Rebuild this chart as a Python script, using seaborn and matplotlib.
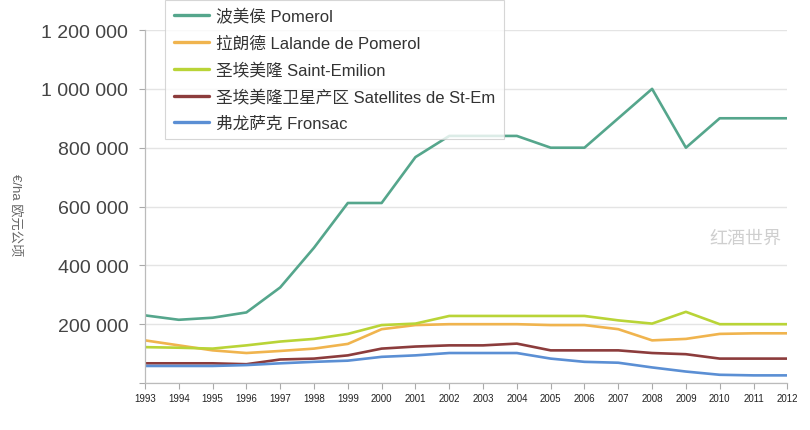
import matplotlib
matplotlib.use("Agg")
import matplotlib.pyplot as plt
import seaborn as sns
import pandas as pd
from matplotlib.ticker import FuncFormatter
from matplotlib.lines import Line2D

years = list(range(1993, 2013))
pomerol = [230000, 215000, 222000, 240000, 325000, 460000, 612000, 612000, 768000, 840000,
           840000, 840000, 800000, 800000, 900000, 1000000, 800000, 900000, 900000, 900000]
lalande = [145000, 128000, 111000, 102000, 109000, 117000, 133000, 183000, 197000, 200000,
           200000, 200000, 197000, 197000, 183000, 145000, 150000, 167000, 169000, 169000]
saint_emilion = [122000, 120000, 117000, 128000, 141000, 150000, 167000, 197000, 202000, 228000,
                 228000, 228000, 228000, 228000, 213000, 202000, 242000, 200000, 200000, 200000]
satellites = [67000, 67000, 67000, 64000, 80000, 83000, 94000, 117000, 124000, 128000,
              128000, 134000, 111000, 111000, 111000, 102000, 98000, 83000, 83000, 83000]
fronsac = [58000, 58000, 58000, 61000, 67000, 72000, 76000, 89000, 94000, 102000,
           102000, 102000, 83000, 72000, 69000, 53000, 39000, 28000, 26000, 26000]

series_names = ["波美侯 Pomerol", "拉朗德 Lalande de Pomerol", "圣埃美隆 Saint-Emilion",
                "圣埃美隆卫星产区 Satellites de St-Em", "弗龙萨克 Fronsac"]
series_values = [pomerol, lalande, saint_emilion, satellites, fronsac]
colors = ["#55a68c", "#f0b44e", "#b9d437", "#8c3c3c", "#5b8fd4"]
y_label = "€/ha 欧元公顷"

rows = []
for name, vals in zip(series_names, series_values):
    for y, v in zip(years, vals):
        rows.append({"year": y, "value": v, "series": name})
df = pd.DataFrame(rows)

sns.set_theme(style="white")
plt.rcParams['font.family'] = ['Liberation Sans', 'Noto Sans CJK SC', 'DejaVu Sans']

fig = plt.figure(figsize=(8.1, 4.31), dpi=100)
ax = fig.add_axes([0.179, 0.109, 0.793, 0.819])

sns.lineplot(data=df, x="year", y="value", hue="series", hue_order=series_names,
             palette=colors, linewidth=1.9, ax=ax, legend=False)

ax.set_xlim(1993, 2012)
ax.set_ylim(0, 1200000)
ax.set_yticks(range(0, 1200001, 200000))
ax.yaxis.set_major_formatter(FuncFormatter(lambda v, p: "" if v == 0 else f"{int(v):,}".replace(",", " ")))
ax.set_xticks(years)
ax.set_xticklabels([str(y) for y in years], fontsize=7, color="#222222")
ax.tick_params(axis="y", left=True, labelsize=14, labelcolor="#444444", length=4, width=0.8,
               color="#aaaaaa", pad=8)
ax.tick_params(axis="x", bottom=True, length=4, width=0.8, color="#aaaaaa", pad=3)
ax.grid(axis="y", color="#e4e4e4", linewidth=1.0)
ax.grid(axis="x", visible=False)
for s in ["top", "right"]:
    ax.spines[s].set_visible(False)
for s in ["left", "bottom"]:
    ax.spines[s].set_color("#bbbbbb")
    ax.spines[s].set_linewidth(0.9)
ax.set_xlabel("")
ax.set_ylabel("")

fig.text(0.019, 0.50, y_label, rotation=270, ha="center", va="center",
         fontsize=9.5, color="#666666")

handles = [Line2D([0], [0], color=c, linewidth=2.4) for c in colors]
leg = fig.legend(handles, series_names, loc="lower left",
                 bbox_to_anchor=(0.204, 0.675), frameon=True, fontsize=12,
                 handlelength=2.1, handletextpad=0.45, labelspacing=0.66,
                 borderpad=0.5, borderaxespad=0.0, fancybox=False)
leg.get_frame().set_edgecolor("#cccccc")
leg.get_frame().set_facecolor("white")
leg.get_frame().set_linewidth(0.8)
for t in leg.get_texts():
    t.set_color("#333333")

fig.text(0.92, 0.445, "红酒世界", fontsize=13, color="#cfcfcf", ha="center", va="center")

fig.savefig("out.png", dpi=100)
